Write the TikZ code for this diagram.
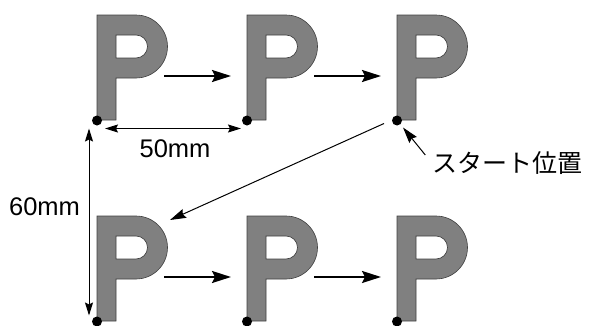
\documentclass[tikz,border=0pt]{standalone}
\usepackage{fontspec}
\setmainfont{Liberation Sans}
\newfontfamily\jpfont{Noto Sans CJK JP}
\usetikzlibrary{arrows.meta}
\tikzset{
  pbody/.style={fill={rgb,255:red,128;green,128;blue,128},draw=black!75,line width=0.6pt,even odd rule},
  dot/.style={circle,fill=black,inner sep=0pt,minimum size=10pt},
  parrow/.style={line width=2.2pt,-{Stealth[length=19pt,width=12pt,inset=3pt]}},
  dimarrow/.style={line width=1pt,{Stealth[length=13pt,width=8pt,inset=2pt]}-{Stealth[length=13pt,width=8pt,inset=2pt]}},
  thinarrow/.style={line width=1pt,-{Stealth[length=16pt,width=9.5pt,inset=2pt]}},
  lbl/.style={font=\fontsize{25.5}{28}\selectfont,inner sep=0pt},
  jlbl/.style={font=\jpfont\fontsize{25}{28}\selectfont,inner sep=0pt},
  pletter/.pic={
    \filldraw[pbody] (0,0) -- (39,0) arc[start angle=90,end angle=-90,radius=31.5pt]
      -- (19,-63) -- (19,-105) -- (0,-105) -- cycle
      (19,-20) -- (39,-20) arc[start angle=90,end angle=-90,radius=11.5pt] -- (19,-43) -- cycle;
    \coordinate (-out) at (67,-61);
    \coordinate (-in) at (-16,-61);
    \coordinate (-tr) at (73,-4);
    \node[dot] (-dot) at (0,-105.5) {};
  }
}
\begin{document}
\begin{tikzpicture}[x=1pt,y=1pt]
\useasboundingbox (0,0) rectangle (592,325);
\pic (p1) at (97,310) {pletter};
\pic (p2) at (247,310) {pletter};
\pic (p3) at (397,310) {pletter};
\pic (p4) at (97,109) {pletter};
\pic (p5) at (247,109) {pletter};
\pic (p6) at (397,109) {pletter};
\draw[parrow] (p1-out) -- (p2-in);
\draw[parrow] (p2-out) -- (p3-in);
\draw[parrow] (p4-out) -- (p5-in);
\draw[parrow] (p5-out) -- (p6-in);
\draw[dimarrow] ([shift={(8,-8)}]p1-dot.center) -- ([shift={(-6,-8)}]p2-dot.center);
\node[lbl] (w) at (175,176) {50mm};
\draw[dimarrow] ([shift={(-8,-8)}]p1-dot.center) -- ([shift={(-8,6)}]p4-dot.center);
\node[lbl] (h) at (44.5,118) {60mm};
\draw[thinarrow] ([shift={(-13,-3)}]p3-dot.center) -- (p4-tr);
\node[jlbl] (s) at (507.5,162) {スタート位置};
\draw[thinarrow] ([shift={(-7,8)}]s.west) -- ([shift={(6,-7)}]p3-dot.center);
\end{tikzpicture}
\end{document}
